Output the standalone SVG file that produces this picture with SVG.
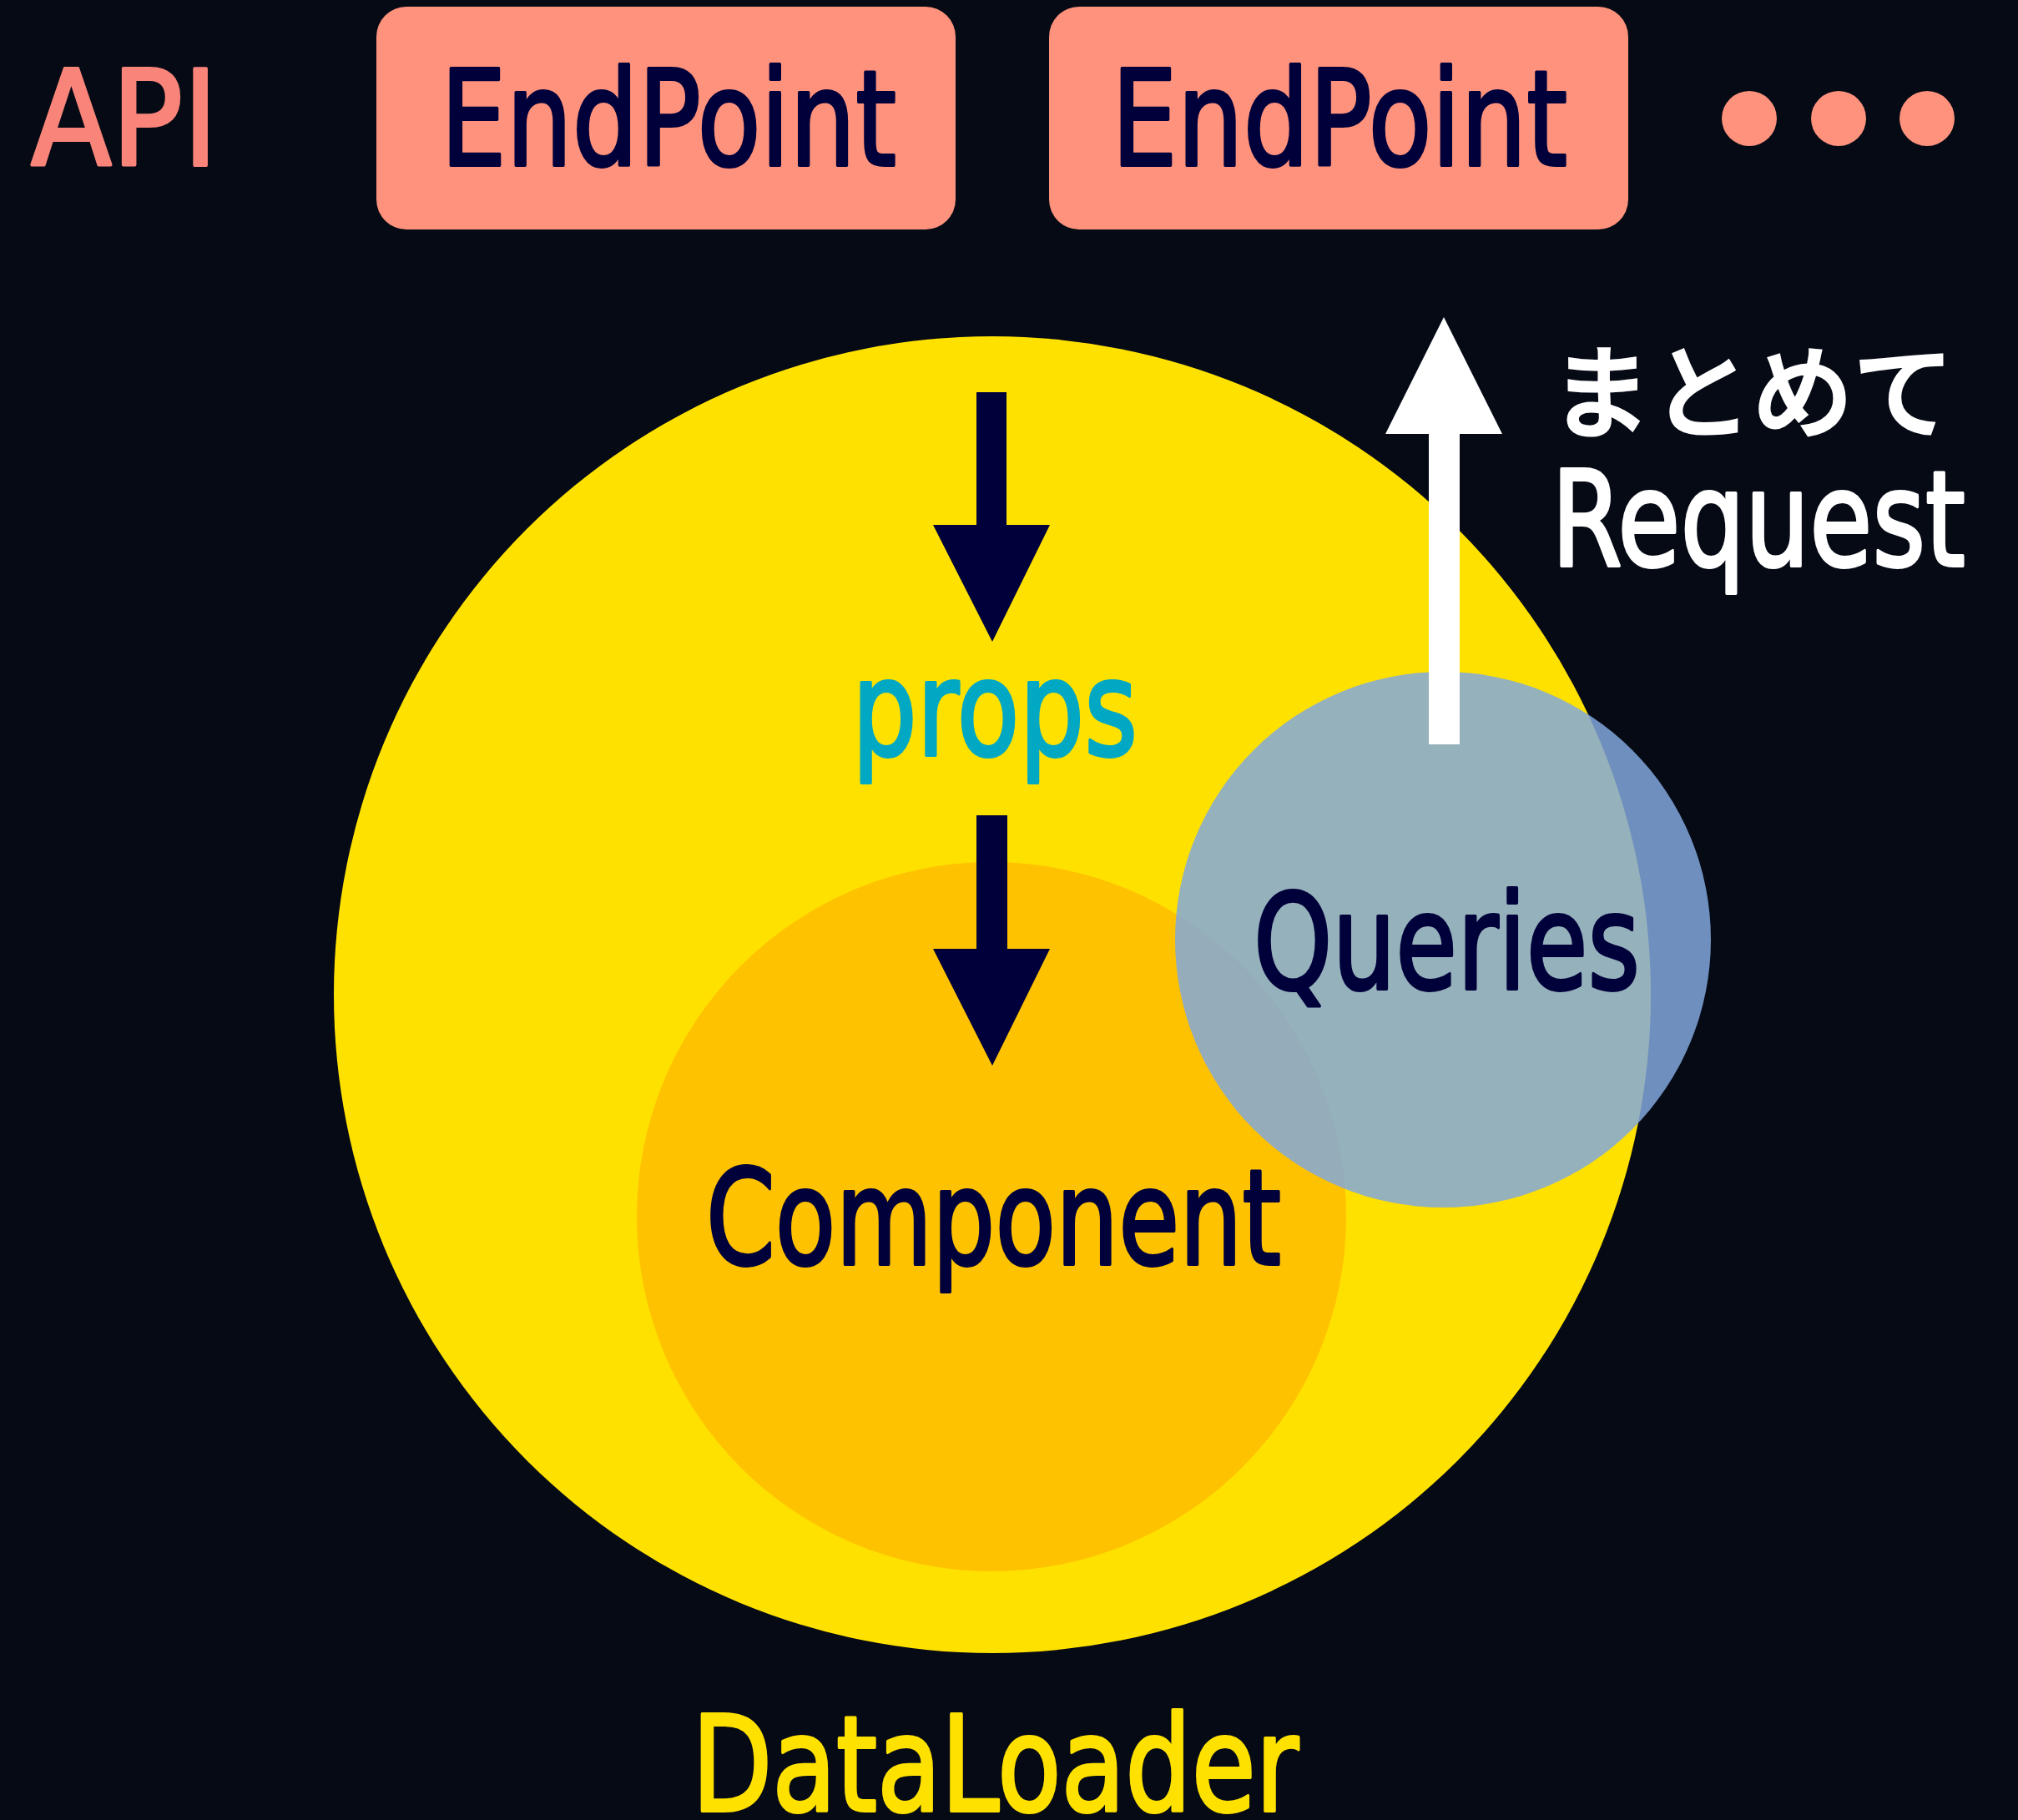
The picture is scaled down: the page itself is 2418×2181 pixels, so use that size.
<svg xmlns="http://www.w3.org/2000/svg" width="2418" height="2181" viewBox="0 0 2418 2181">
<style>
.t{font-family:"DejaVu Sans","Liberation Sans",sans-serif;font-weight:normal;font-size:158px;stroke-width:4;stroke-linejoin:round}
.dark{fill:#00003a}
.dt{fill:#00003a;stroke:#00003a}
.box{fill:#ff927c}
</style>
<rect width="2418" height="2181" fill="#050a15"/>
<g id="api"><text class="t" x="37" y="198" textLength="224" lengthAdjust="spacingAndGlyphs" fill="#f98479" stroke="#f98479">API</text></g>
<g id="endpoint1"><rect class="box" x="451" y="8" width="694" height="267" rx="36"/><text class="t dt" x="528" y="198" textLength="546" lengthAdjust="spacingAndGlyphs">EndPoint</text></g>
<g id="endpoint2"><rect class="box" x="1257" y="8" width="694" height="267" rx="36"/><text class="t dt" x="1332" y="198" textLength="546" lengthAdjust="spacingAndGlyphs">EndPoint</text></g>
<g id="more"><circle class="box" cx="2096" cy="142" r="33"/><circle class="box" cx="2203" cy="142" r="33"/><circle class="box" cx="2309" cy="142" r="33"/></g>
<g id="dataloader"><circle cx="1189" cy="1192" r="789" fill="#ffe100"/><text class="t" x="829" y="2170" textLength="727" lengthAdjust="spacingAndGlyphs" fill="#ffe100" stroke="#ffe100">DataLoader</text></g>
<g id="component"><circle cx="1188" cy="1458" r="425" fill="#ffc200"/><text class="t dt" x="846" y="1515" textLength="689" lengthAdjust="spacingAndGlyphs">Component</text></g>
<g id="queries"><circle cx="1729" cy="1126" r="321" fill="#83a8dc" fill-opacity="0.85"/><text class="t dt" x="1502" y="1185" textLength="463" lengthAdjust="spacingAndGlyphs">Queries</text></g>
<g id="connectors">
<polygon class="dark" points="1170,470 1206,470 1206,629 1258,629 1189,769 1118,629 1170,629"/>
<text class="t" x="1021" y="905" textLength="342" lengthAdjust="spacingAndGlyphs" fill="#00a8c4" stroke="#00a8c4">props</text>
<polygon class="dark" points="1170,977 1207,977 1207,1137 1258,1137 1189,1277 1118,1137 1170,1137"/>
<polygon fill="#ffffff" points="1712,892 1749,892 1749,520 1800,520 1730,380 1660,520 1712,520"/>
<text x="1858" y="515" textLength="483" lengthAdjust="spacingAndGlyphs" font-family="'Noto Sans CJK JP',sans-serif" font-weight="500" font-size="122" fill="#ffffff" stroke="#ffffff" stroke-width="3">まとめて</text>
<text class="t" x="1859" y="678" textLength="496" lengthAdjust="spacingAndGlyphs" fill="#ffffff" stroke="#ffffff">Request</text>
</g>
</svg>
